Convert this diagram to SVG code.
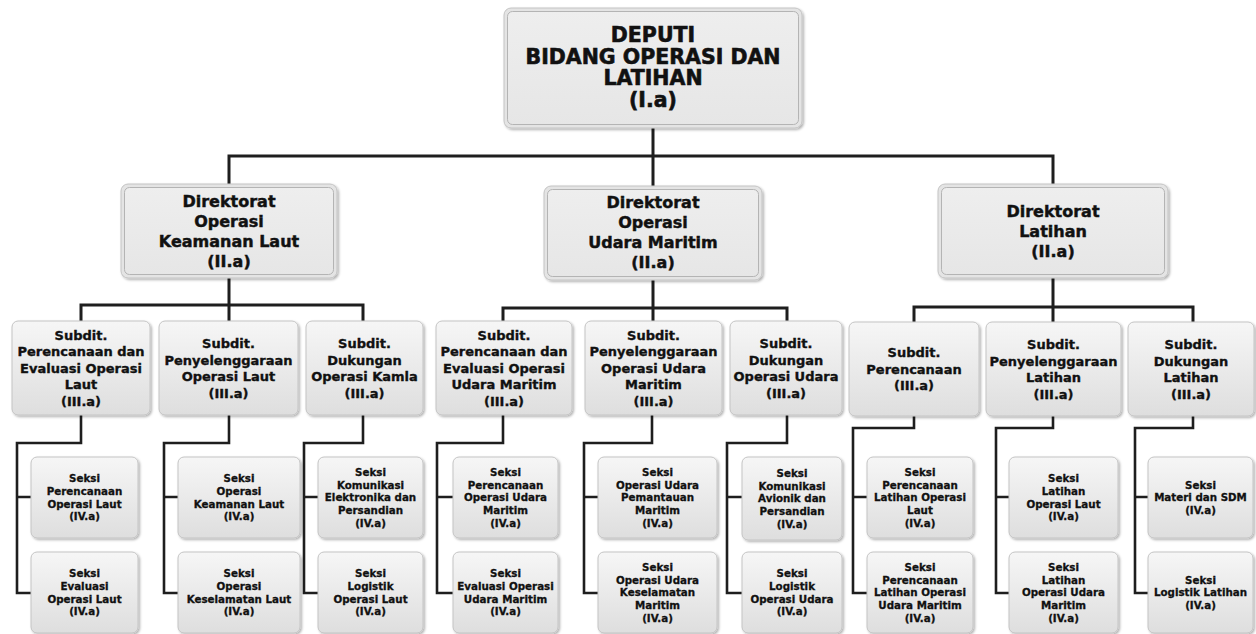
<svg xmlns="http://www.w3.org/2000/svg" width="1256" height="634" viewBox="0 0 1256 634">
<defs>
<linearGradient id="gBig" x1="0" y1="0" x2="0" y2="1"><stop offset="0" stop-color="#eeeeee"/><stop offset="1" stop-color="#e6e6e6"/></linearGradient>
<linearGradient id="gSm" x1="0" y1="0" x2="0" y2="1"><stop offset="0" stop-color="#f6f6f6"/><stop offset="1" stop-color="#dedede"/></linearGradient>
<filter id="sh" x="-10%" y="-10%" width="125%" height="130%"><feDropShadow dx="1.5" dy="1.5" stdDeviation="1.2" flood-color="#000" flood-opacity="0.3"/></filter>
</defs>
<style>
text{font-family:"DejaVu Sans","Verdana",sans-serif;font-weight:bold;fill:#111;stroke:#111;text-anchor:middle}
.t0{font-size:20.5px;stroke-width:0.6}
.t1{font-size:16px;stroke-width:0.45}
.t2{font-size:13px;stroke-width:0.35}
.t3{font-size:10.3px;stroke-width:0.3}
.bo{fill:#e4e4e4;stroke:#c4c4c4;stroke-width:1}
.bi{fill:url(#gBig);stroke:#b4b4b4;stroke-width:1}
.sm{fill:url(#gSm);stroke:#c4c4c4;stroke-width:1;filter:url(#sh)}
.c1{fill:none;stroke:#1e1e1e;stroke-width:3}
.c2{fill:none;stroke:#1e1e1e;stroke-width:2.6}
</style>
<rect width="1256" height="634" fill="#ffffff"/>
<g id="connectors">
<path class="c1" d="M653 128V156M229 184V156H1053V184M653 156V186"/>
<path class="c1" d="M229 278V305M81 321V305H363V321M229 305V321"/>
<path class="c1" d="M653 280V308M503 321V308H787V321M653 308V321"/>
<path class="c1" d="M1053 278V307M914 322V307H1193V322M1053 307V322"/>
<path class="c2" d="M81 415V443H17V593H31M17 497H31"/>
<path class="c2" d="M229 415V443H164V593H178M164 497H178"/>
<path class="c2" d="M363 415V443H304V593H318M304 497H318"/>
<path class="c2" d="M503 415V443H437V593H453M437 497H453"/>
<path class="c2" d="M652 415V443H584V593H598M584 497H598"/>
<path class="c2" d="M787 415V443H727V593H742M727 497H742"/>
<path class="c2" d="M914 416V428H853V593H867M853 497H867"/>
<path class="c2" d="M1053 416V428H996V593H1009M996 497H1009"/>
<path class="c2" d="M1193 416V428H1135V593H1148M1135 497H1148"/>
</g>
<g id="deputi">
<rect class="bo" x="504" y="8" width="298" height="120" rx="7" filter="url(#sh)"/>
<rect class="bi" x="507.5" y="11.5" width="291" height="113" rx="5"/>
<text class="t0"><tspan x="653" y="42">DEPUTI</tspan><tspan x="653" y="63.5">BIDANG OPERASI DAN</tspan><tspan x="653" y="85">LATIHAN</tspan><tspan x="653" y="106.5">(I.a)</tspan></text>
</g>
<g id="dir-kamla">
<rect class="bo" x="121" y="184" width="216" height="94" rx="7" filter="url(#sh)"/>
<rect class="bi" x="124.5" y="187.5" width="209" height="87" rx="5"/>
<text class="t1"><tspan x="229" y="207">Direktorat</tspan><tspan x="229" y="226.5">Operasi</tspan><tspan x="229" y="246.5">Keamanan Laut</tspan><tspan x="229" y="266.5">(II.a)</tspan></text>
</g>
<g id="dir-udara">
<rect class="bo" x="544" y="186" width="218" height="94" rx="7" filter="url(#sh)"/>
<rect class="bi" x="547.5" y="189.5" width="211" height="87" rx="5"/>
<text class="t1"><tspan x="653" y="208">Direktorat</tspan><tspan x="653" y="228">Operasi</tspan><tspan x="653" y="248">Udara Maritim</tspan><tspan x="653" y="268">(II.a)</tspan></text>
</g>
<g id="dir-latihan">
<rect class="bo" x="938" y="184" width="230" height="94" rx="7" filter="url(#sh)"/>
<rect class="bi" x="941.5" y="187.5" width="223" height="87" rx="5"/>
<text class="t1"><tspan x="1053" y="217">Direktorat</tspan><tspan x="1053" y="237">Latihan</tspan><tspan x="1053" y="257">(II.a)</tspan></text>
</g>
<g id="subdit-1">
<rect class="sm" x="12" y="321" width="138" height="94" rx="6"/>
<text class="t2"><tspan x="81" y="339.5">Subdit.</tspan><tspan x="81" y="356">Perencanaan dan</tspan><tspan x="81" y="372.5">Evaluasi Operasi</tspan><tspan x="81" y="389">Laut</tspan><tspan x="81" y="405.5">(III.a)</tspan></text>
</g>
<g id="subdit-2">
<rect class="sm" x="159" y="321" width="139" height="94" rx="6"/>
<text class="t2"><tspan x="228.5" y="348">Subdit.</tspan><tspan x="228.5" y="364.5">Penyelenggaraan</tspan><tspan x="228.5" y="381">Operasi Laut</tspan><tspan x="228.5" y="397.5">(III.a)</tspan></text>
</g>
<g id="subdit-3">
<rect class="sm" x="306" y="321" width="117" height="94" rx="6"/>
<text class="t2"><tspan x="364.5" y="348">Subdit.</tspan><tspan x="364.5" y="364.5">Dukungan</tspan><tspan x="364.5" y="381">Operasi Kamla</tspan><tspan x="364.5" y="397.5">(III.a)</tspan></text>
</g>
<g id="subdit-4">
<rect class="sm" x="436" y="321" width="136" height="94" rx="6"/>
<text class="t2"><tspan x="504" y="339.5">Subdit.</tspan><tspan x="504" y="356">Perencanaan dan</tspan><tspan x="504" y="372.5">Evaluasi Operasi</tspan><tspan x="504" y="389">Udara Maritim</tspan><tspan x="504" y="405.5">(III.a)</tspan></text>
</g>
<g id="subdit-5">
<rect class="sm" x="585" y="321" width="137" height="94" rx="6"/>
<text class="t2"><tspan x="653.5" y="339.5">Subdit.</tspan><tspan x="653.5" y="356">Penyelenggaraan</tspan><tspan x="653.5" y="372.5">Operasi Udara</tspan><tspan x="653.5" y="389">Maritim</tspan><tspan x="653.5" y="405.5">(III.a)</tspan></text>
</g>
<g id="subdit-6">
<rect class="sm" x="730" y="321" width="112" height="94" rx="6"/>
<text class="t2"><tspan x="786" y="348">Subdit.</tspan><tspan x="786" y="364.5">Dukungan</tspan><tspan x="786" y="381">Operasi Udara</tspan><tspan x="786" y="397.5">(III.a)</tspan></text>
</g>
<g id="subdit-7">
<rect class="sm" x="849" y="322" width="130" height="94" rx="6"/>
<text class="t2"><tspan x="914" y="357">Subdit.</tspan><tspan x="914" y="373.5">Perencanaan</tspan><tspan x="914" y="390">(III.a)</tspan></text>
</g>
<g id="subdit-8">
<rect class="sm" x="986" y="322" width="135" height="94" rx="6"/>
<text class="t2"><tspan x="1053.5" y="349">Subdit.</tspan><tspan x="1053.5" y="365.5">Penyelenggaraan</tspan><tspan x="1053.5" y="382">Latihan</tspan><tspan x="1053.5" y="398.5">(III.a)</tspan></text>
</g>
<g id="subdit-9">
<rect class="sm" x="1128" y="322" width="126" height="94" rx="6"/>
<text class="t2"><tspan x="1191" y="349">Subdit.</tspan><tspan x="1191" y="365.5">Dukungan</tspan><tspan x="1191" y="382">Latihan</tspan><tspan x="1191" y="398.5">(III.a)</tspan></text>
</g>
<g id="seksi-a1">
<rect class="sm" x="31" y="457" width="107" height="81" rx="6"/>
<text class="t3"><tspan x="84.5" y="482.2">Seksi</tspan><tspan x="84.5" y="494.9">Perencanaan</tspan><tspan x="84.5" y="507.6">Operasi Laut</tspan><tspan x="84.5" y="520.3">(IV.a)</tspan></text>
</g>
<g id="seksi-a2">
<rect class="sm" x="31" y="552" width="107" height="81" rx="6"/>
<text class="t3"><tspan x="84.5" y="577.2">Seksi</tspan><tspan x="84.5" y="589.9">Evaluasi</tspan><tspan x="84.5" y="602.6">Operasi Laut</tspan><tspan x="84.5" y="615.3">(IV.a)</tspan></text>
</g>
<g id="seksi-b1">
<rect class="sm" x="178" y="457" width="122" height="81" rx="6"/>
<text class="t3"><tspan x="239" y="482.2">Seksi</tspan><tspan x="239" y="494.9">Operasi</tspan><tspan x="239" y="507.6">Keamanan Laut</tspan><tspan x="239" y="520.3">(IV.a)</tspan></text>
</g>
<g id="seksi-b2">
<rect class="sm" x="178" y="552" width="122" height="81" rx="6"/>
<text class="t3"><tspan x="239" y="577.2">Seksi</tspan><tspan x="239" y="589.9">Operasi</tspan><tspan x="239" y="602.6">Keselamatan Laut</tspan><tspan x="239" y="615.3">(IV.a)</tspan></text>
</g>
<g id="seksi-c1">
<rect class="sm" x="318" y="457" width="105" height="81" rx="6"/>
<text class="t3"><tspan x="370.5" y="475.85">Seksi</tspan><tspan x="370.5" y="488.55">Komunikasi</tspan><tspan x="370.5" y="501.25">Elektronika dan</tspan><tspan x="370.5" y="513.95">Persandian</tspan><tspan x="370.5" y="526.65">(IV.a)</tspan></text>
</g>
<g id="seksi-c2">
<rect class="sm" x="318" y="552" width="105" height="81" rx="6"/>
<text class="t3"><tspan x="370.5" y="577.2">Seksi</tspan><tspan x="370.5" y="589.9">Logistik</tspan><tspan x="370.5" y="602.6">Operasi Laut</tspan><tspan x="370.5" y="615.3">(IV.a)</tspan></text>
</g>
<g id="seksi-d1">
<rect class="sm" x="453" y="457" width="105" height="81" rx="6"/>
<text class="t3"><tspan x="505.5" y="475.85">Seksi</tspan><tspan x="505.5" y="488.55">Perencanaan</tspan><tspan x="505.5" y="501.25">Operasi Udara</tspan><tspan x="505.5" y="513.95">Maritim</tspan><tspan x="505.5" y="526.65">(IV.a)</tspan></text>
</g>
<g id="seksi-d2">
<rect class="sm" x="453" y="552" width="105" height="81" rx="6"/>
<text class="t3"><tspan x="505.5" y="577.2">Seksi</tspan><tspan x="505.5" y="589.9">Evaluasi Operasi</tspan><tspan x="505.5" y="602.6">Udara Maritim</tspan><tspan x="505.5" y="615.3">(IV.a)</tspan></text>
</g>
<g id="seksi-e1">
<rect class="sm" x="598" y="457" width="119" height="81" rx="6"/>
<text class="t3"><tspan x="657.5" y="475.85">Seksi</tspan><tspan x="657.5" y="488.55">Operasi Udara</tspan><tspan x="657.5" y="501.25">Pemantauan</tspan><tspan x="657.5" y="513.95">Maritim</tspan><tspan x="657.5" y="526.65">(IV.a)</tspan></text>
</g>
<g id="seksi-e2">
<rect class="sm" x="598" y="552" width="119" height="81" rx="6"/>
<text class="t3"><tspan x="657.5" y="570.85">Seksi</tspan><tspan x="657.5" y="583.55">Operasi Udara</tspan><tspan x="657.5" y="596.25">Keselamatan</tspan><tspan x="657.5" y="608.95">Maritim</tspan><tspan x="657.5" y="621.65">(IV.a)</tspan></text>
</g>
<g id="seksi-f1">
<rect class="sm" x="742" y="457" width="100" height="83" rx="6"/>
<text class="t3"><tspan x="792" y="476.85">Seksi</tspan><tspan x="792" y="489.55">Komunikasi</tspan><tspan x="792" y="502.25">Avionik dan</tspan><tspan x="792" y="514.95">Persandian</tspan><tspan x="792" y="527.65">(IV.a)</tspan></text>
</g>
<g id="seksi-f2">
<rect class="sm" x="742" y="552" width="100" height="81" rx="6"/>
<text class="t3"><tspan x="792" y="577.2">Seksi</tspan><tspan x="792" y="589.9">Logistik</tspan><tspan x="792" y="602.6">Operasi Udara</tspan><tspan x="792" y="615.3">(IV.a)</tspan></text>
</g>
<g id="seksi-g1">
<rect class="sm" x="867" y="457" width="106" height="81" rx="6"/>
<text class="t3"><tspan x="920" y="475.85">Seksi</tspan><tspan x="920" y="488.55">Perencanaan</tspan><tspan x="920" y="501.25">Latihan Operasi</tspan><tspan x="920" y="513.95">Laut</tspan><tspan x="920" y="526.65">(IV.a)</tspan></text>
</g>
<g id="seksi-g2">
<rect class="sm" x="867" y="552" width="106" height="81" rx="6"/>
<text class="t3"><tspan x="920" y="570.85">Seksi</tspan><tspan x="920" y="583.55">Perencanaan</tspan><tspan x="920" y="596.25">Latihan Operasi</tspan><tspan x="920" y="608.95">Udara Maritim</tspan><tspan x="920" y="621.65">(IV.a)</tspan></text>
</g>
<g id="seksi-h1">
<rect class="sm" x="1009" y="457" width="109" height="81" rx="6"/>
<text class="t3"><tspan x="1063.5" y="482.2">Seksi</tspan><tspan x="1063.5" y="494.9">Latihan</tspan><tspan x="1063.5" y="507.6">Operasi Laut</tspan><tspan x="1063.5" y="520.3">(IV.a)</tspan></text>
</g>
<g id="seksi-h2">
<rect class="sm" x="1009" y="552" width="109" height="81" rx="6"/>
<text class="t3"><tspan x="1063.5" y="570.85">Seksi</tspan><tspan x="1063.5" y="583.55">Latihan</tspan><tspan x="1063.5" y="596.25">Operasi Udara</tspan><tspan x="1063.5" y="608.95">Maritim</tspan><tspan x="1063.5" y="621.65">(IV.a)</tspan></text>
</g>
<g id="seksi-i1">
<rect class="sm" x="1148" y="457" width="105" height="81" rx="6"/>
<text class="t3"><tspan x="1200.5" y="488.55">Seksi</tspan><tspan x="1200.5" y="501.25">Materi dan SDM</tspan><tspan x="1200.5" y="513.95">(IV.a)</tspan></text>
</g>
<g id="seksi-i2">
<rect class="sm" x="1148" y="552" width="105" height="81" rx="6"/>
<text class="t3"><tspan x="1200.5" y="583.55">Seksi</tspan><tspan x="1200.5" y="596.25">Logistik Latihan</tspan><tspan x="1200.5" y="608.95">(IV.a)</tspan></text>
</g>
</svg>
